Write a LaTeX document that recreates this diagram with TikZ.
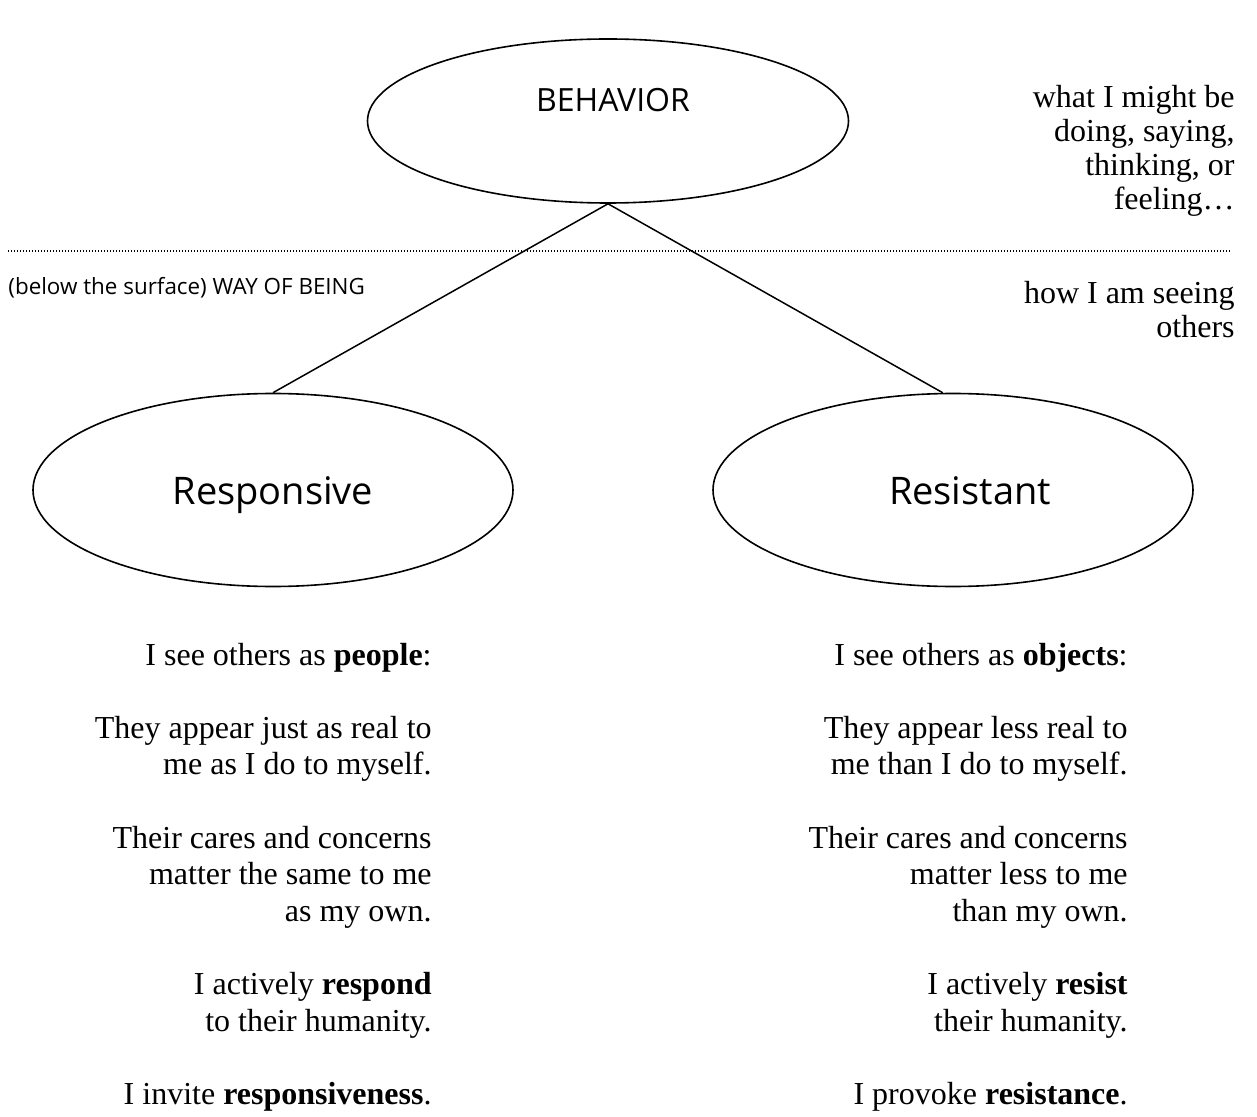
\documentclass[tikz,border=0pt]{standalone}
\usepackage{fontspec}
\setmainfont{Liberation Serif}
\setsansfont{Open Sans}
\usetikzlibrary{shapes.geometric}
\begin{document}
\begin{tikzpicture}[x=0.5pt,y=-0.5pt,
  oval/.style={ellipse, draw, line width=0.8pt, inner sep=0pt},
  link/.style={line width=0.75pt},
  surface/.style={line width=0.6pt, dash pattern=on 0.6pt off 0.9pt},
  bigsans/.style={font=\sffamily\fontsize{19}{22}\selectfont, inner sep=0pt, anchor=base},
  topsans/.style={font=\sffamily\fontsize{16}{19}\selectfont, inner sep=0pt, anchor=base},
  smallsans/.style={font=\sffamily\fontsize{11.2}{13}\selectfont, inner sep=0pt, anchor=base west},
  sidetext/.style={font=\fontsize{16}{16.9}\selectfont, inner sep=0pt, anchor=base east},
  coltext/.style={font=\fontsize{16}{18.3}\selectfont, inner sep=0pt, anchor=base east},
]
\useasboundingbox (0,0) rectangle (1257,1117);

% ellipses
\node[oval, minimum width=240.5pt, minimum height=82pt] (beh) at (608,121) {};
\node[oval, minimum width=240pt, minimum height=96.5pt] (resp) at (273,490) {};
\node[oval, minimum width=240pt, minimum height=96.5pt] (resist) at (953,490) {};

% ellipse labels
\node[topsans] (behT) at (613,112) {BEHAVIOR};
\node[bigsans] (respT) at (273,504) {Responsive};
\node[bigsans] (resistT) at (970,504) {Resistant};

% connectors
\draw[link] (beh.south) -- (resp.north);
\draw[link] (beh.south) -- (resist.96);

% surface line
\coordinate (sl) at (8,251);
\coordinate (sr) at (1230,251);
\draw[surface] (sl) -- (sr);

\node[smallsans] (below) at (8,295) {(below the surface) WAY OF BEING};

% right side notes
\node[sidetext] (what) at (1235,108) {\begin{tabular}[t]{@{}r@{}}what I might be\\ doing, saying,\\ thinking, or\\ feeling\ldots\end{tabular}};
\node[sidetext] (how) at (1235,304) {\begin{tabular}[t]{@{}r@{}}how I am seeing\\ others\end{tabular}};

% columns
\node[coltext] (leftcol) at (432,665) {\begin{tabular}[t]{@{}r@{}}
I see others as \textbf{people}:\\ \\
They appear just as real to\\ me as I do to myself.\\ \\
Their cares and concerns\\ matter the same to me\\ as my own.\\ \\
I actively \textbf{respond}\\ to their humanity.\\ \\
I invite \textbf{responsiveness}.\end{tabular}};

\node[coltext] (rightcol) at (1128,665) {\begin{tabular}[t]{@{}r@{}}
I see others as \textbf{objects}:\\ \\
They appear less real to\\ me than I do to myself.\\ \\
Their cares and concerns\\ matter less to me\\ than my own.\\ \\
I actively \textbf{resist}\\ their humanity.\\ \\
I provoke \textbf{resistance}.\end{tabular}};
\end{tikzpicture}
\end{document}
